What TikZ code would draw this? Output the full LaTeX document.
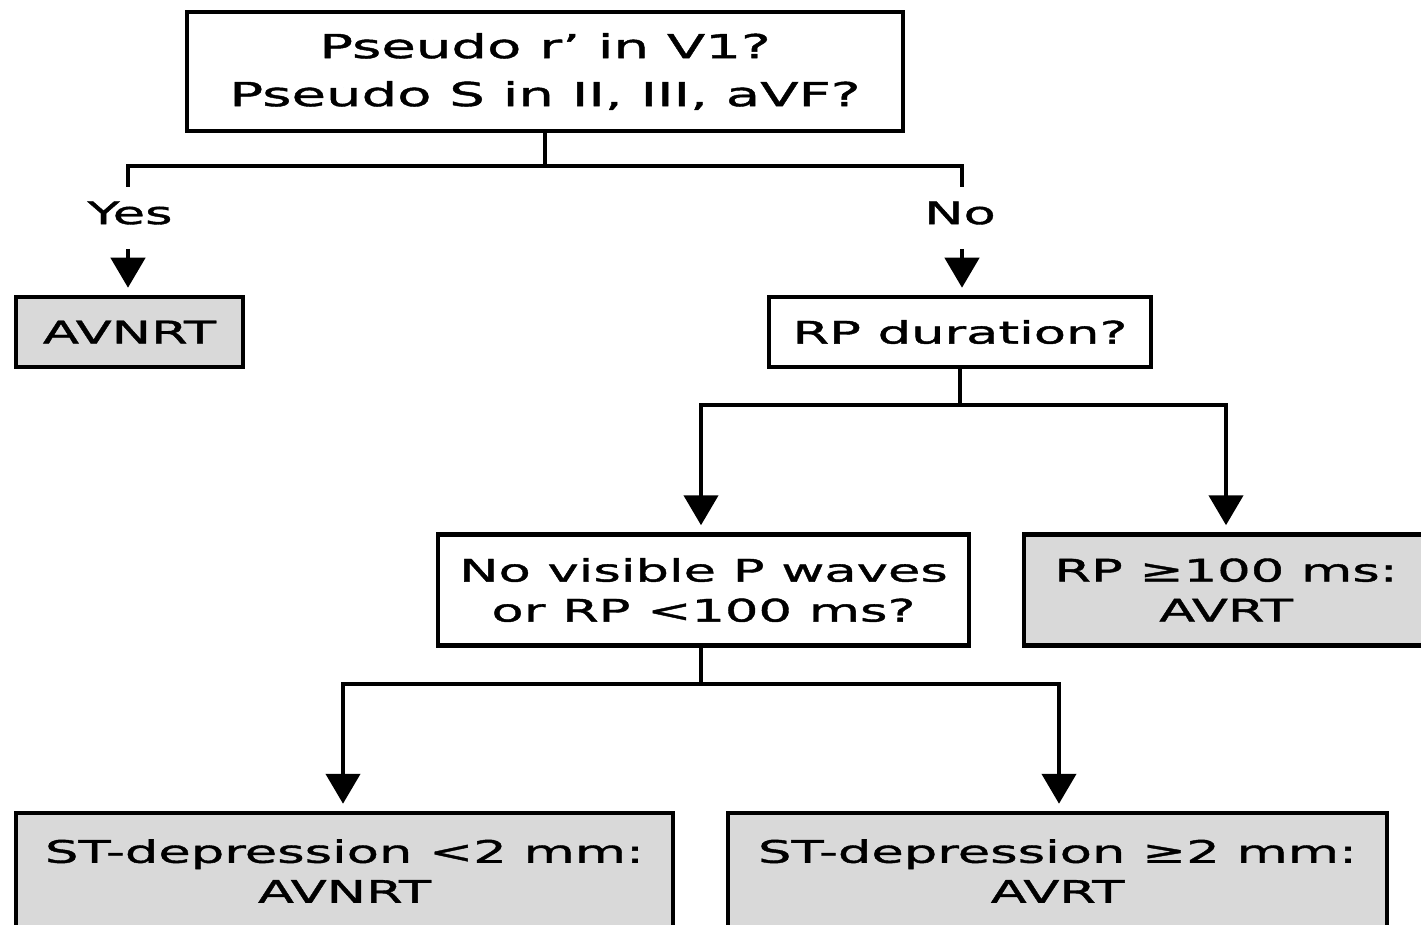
\documentclass[tikz,border=0pt]{standalone}
\usepackage{fontspec}
\setmainfont[FakeStretch=1.7,FakeBold=1.3]{DejaVu Sans}
\usetikzlibrary{arrows.meta}
\definecolor{boxgray}{RGB}{217,217,217}

\begin{document}
\begin{tikzpicture}[x=1pt,y=-1pt,
  txt/.style={font=\fontsize{31}{40}\selectfont},
  box/.style={draw, line width=4.5pt, inner sep=0pt, align=center, txt},
  result/.style={box, fill=boxgray},
  conn/.style={line width=4.5pt, line join=miter},
  arr/.style={line width=4.5pt, shorten >=7pt, -{Triangle[width=34pt,length=30pt]}}
]
\clip (0,0) rectangle (1421,925);

% question and decision boxes
\node[box, minimum width=716pt, minimum height=119pt,
      font=\fontsize{33}{48}\selectfont] (q1) at (545,71.5)
  {Pseudo r' in V1?\\Pseudo S in II, III, aVF?};
\node[result, minimum width=227pt, minimum height=70pt] (avnrt) at (129.5,332) {AVNRT};
\node[box, minimum width=382pt, minimum height=70pt] (rp) at (960,332) {RP duration?};
\node[box, minimum width=531pt, minimum height=111pt] (novis) at (703.5,590)
  {No visible P waves\\or RP <100 ms?};
\node[result, minimum width=404pt, minimum height=111pt] (rplong) at (1226,590)
  {RP ≥100 ms:\\AVRT};
\node[result, minimum width=657pt, minimum height=116pt] (stlow) at (344.5,871)
  {ST-depression <2 mm:\\AVNRT};
\node[result, minimum width=659pt, minimum height=116pt] (sthigh) at (1057.5,871)
  {ST-depression ≥2 mm:\\AVRT};

% branch labels
\node[txt] (yes) at (130,213) {Yes};
\node[txt] (no) at (960,213) {No};

% first split
\coordinate (j1) at (545,166);
\coordinate (jy) at (128,166);
\coordinate (jn) at (962,166);
\coordinate (ty) at (128,187);
\coordinate (tn) at (962,187);
\coordinate (ay) at (128,249);
\coordinate (an) at (962,249);
\draw[conn] (q1.south) -- (j1);
\draw[conn] (ty) -- (jy) -- (jn) -- (tn);
\draw[arr] (ay) -- (ay |- avnrt.north);
\draw[arr] (an) -- (an |- rp.north);

% second split
\coordinate (j2) at (960,405);
\coordinate (j2l) at (701,405);
\coordinate (j2r) at (1226,405);
\draw[conn] (rp.south) -- (j2);
\draw[arr] (j2) -- (j2l) -- (j2l |- novis.north);
\draw[arr] (j2) -- (j2r) -- (j2r |- rplong.north);

% third split
\coordinate (j3) at (701,684);
\coordinate (j3l) at (343,684);
\coordinate (j3r) at (1059,684);
\draw[conn] (novis.south -| j3) -- (j3);
\draw[arr] (j3) -- (j3l) -- (j3l |- stlow.north);
\draw[arr] (j3) -- (j3r) -- (j3r |- sthigh.north);
\end{tikzpicture}
\end{document}
